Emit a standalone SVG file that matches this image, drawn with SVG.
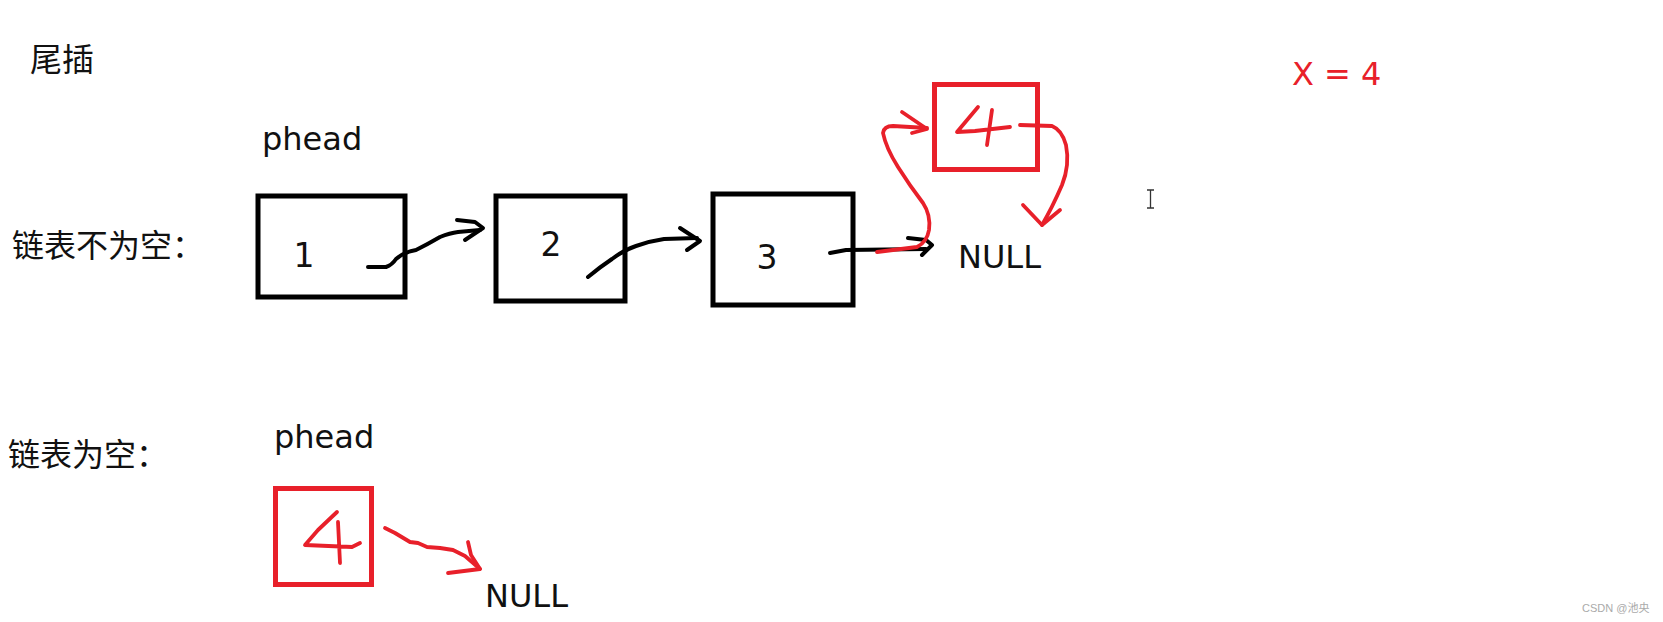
<svg xmlns="http://www.w3.org/2000/svg" width="1663" height="622" viewBox="0 0 1663 622">
<style>
.cjk{font-family:"Noto Sans CJK SC","Noto Sans",sans-serif;font-size:32px;fill:#111}
.lbl{font-family:"DejaVu Sans","Noto Sans",sans-serif;font-size:32px;fill:#111}
.num{font-family:"DejaVu Sans","Noto Sans",sans-serif;font-size:33px;fill:#111;text-anchor:middle}
.box{fill:none;stroke:#000;stroke-width:5}
.rbox{fill:none;stroke:#e8202a;stroke-width:5}
.ink{fill:none;stroke:#000;stroke-width:4;stroke-linecap:round;stroke-linejoin:round}
.rink{fill:none;stroke:#e8202a;stroke-width:3.8;stroke-linecap:round;stroke-linejoin:round}
</style>
<rect width="1663" height="622" fill="#fff"/>
<text class="cjk" x="30" y="71" font-size="33">尾插</text>
<text class="cjk" x="12" y="257">链表不为空：</text>
<text class="cjk" x="8" y="466">链表为空：</text>
<text class="lbl" x="262" y="150">phead</text>
<text class="lbl" x="274" y="448">phead</text>
<text x="1292" y="85" font-family="DejaVu Sans, sans-serif" font-size="32" fill="#e8202a">X = 4</text>

<g id="node1"><rect class="box" x="258" y="196" width="147" height="101"/><text class="num" x="304" y="267">1</text></g>
<g id="node2"><rect class="box" x="496" y="196" width="129" height="105"/><text class="num" x="551" y="256">2</text></g>
<g id="node3"><rect class="box" x="713" y="194" width="140" height="111"/><text class="num" x="767" y="269">3</text></g>
<g id="null1"><text class="lbl" x="958" y="268" font-size="33">NULL</text></g>
<g id="node4a"><rect class="rbox" x="934.5" y="84.5" width="103" height="85"/>
<path class="rink" d="M978 107 L957 132 L975 131 L1010 127 M992 110 L987 145"/></g>
<g id="node4b"><rect class="rbox" x="275.5" y="488.5" width="96" height="96"/>
<path class="rink" d="M337 512 L318 530 L305 545 L352 547 L360 543 M338 522 L340 563"/></g>
<g id="null2"><text class="lbl" x="485" y="607" font-size="33">NULL</text></g>

<g id="connectors">
<path class="ink" d="M368 267 L386 267 Q392 265 396 259 Q404 252 416 250 Q428 244 440 237 Q450 233 458 232 L480 230"/>
<path class="ink" d="M457 220 L475 222 L483 228 L465 240"/>
<path class="ink" d="M588 277 Q600 267 612 259 Q624 250 636 246 Q650 241 664 239 L697 238"/>
<path class="ink" d="M680 228 L700 241 L687 250"/>
<path class="ink" d="M830 253 L846 250 L926 249"/>
<path class="ink" d="M908 238 L926 240 L932 245 L922 255"/>
<path class="rink" d="M877 252 L917 247 Q927 242 929 230 Q931 215 923 203 Q910 186 898 167 Q886 148 883 133 Q884 126 893 126 L927 128"/>
<path class="rink" d="M902 112 L927 129 L912 133"/>
<path class="rink" d="M1020 125 L1052 126 Q1062 130 1066 145 Q1070 165 1062 185 Q1052 208 1042 225"/>
<path class="rink" d="M1023 205 L1042 225 L1060 210"/>
<path class="rink" d="M385 528 L395 533 L410 542 L418 543 L427 547 L440 548 L453 550 L465 556 L480 569"/>
<path class="rink" d="M468 542 L471 555 L480 569 L448 573"/>
</g>
<path d="M1147 190 H1154 M1150.5 190 V208 M1147 208 H1154" stroke="#333" stroke-width="1.3" fill="none"/>
<text x="1582" y="612" font-family="Liberation Sans, Arial, sans-serif" font-size="11" fill="#aaa">CSDN <tspan font-family="Liberation Sans, Noto Sans CJK SC, sans-serif">@池央</tspan></text>
</svg>
